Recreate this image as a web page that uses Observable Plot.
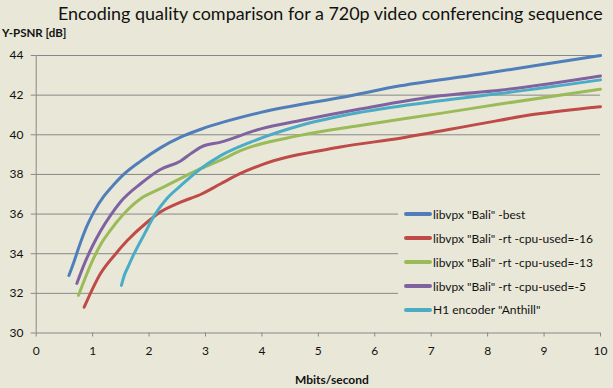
<!DOCTYPE html>
<html><head><meta charset="utf-8">
<script src="https://cdn.jsdelivr.net/npm/d3@7"></script>
<script src="https://cdn.jsdelivr.net/npm/@observablehq/plot@0.6"></script>
<style>
html,body{margin:0;padding:0;background:#E9E8D8;}
#wrap{position:relative;width:613px;height:388px;overflow:hidden;font-family:Lato,"Open Sans",sans-serif;background:#E9E8D8;}
#wrap svg{position:absolute;left:0;top:0;}
#title{position:absolute;left:58px;top:3px;font-size:18px;line-height:20px;white-space:nowrap;color:#111;}
#ylab{position:absolute;left:2px;top:26px;font-size:11.5px;font-weight:bold;color:#111;white-space:nowrap;}
#xlab{position:absolute;left:295px;top:372px;font-size:12px;font-weight:bold;color:#111;white-space:nowrap;}
#legend{position:absolute;left:398px;top:200px;width:215px;height:122px;background:#E9E8D8;}
.item{position:absolute;left:6px;height:20px;display:flex;align-items:center;font-size:12px;color:#111;white-space:nowrap;}
.sw{width:28px;height:4px;border-radius:2px;margin-right:1px;}
</style></head><body><div id="wrap">
<div id="title">Encoding quality comparison for a 720p video conferencing sequence</div>
<div id="ylab">Y-PSNR [dB]</div>
<div id="xlab">Mbits/second</div>
<div id="legend"></div>
</div>
<script>
const seriesNames = ['libvpx "Bali" -best','libvpx "Bali" -rt -cpu-used=-16','libvpx "Bali" -rt -cpu-used=-13','libvpx "Bali" -rt -cpu-used=-5','H1 encoder "Anthill"'];
const seriesColors = ["#4F7EBB","#BE4B48","#9BBB59","#7F63A1","#4BACC6"];

const bestX = [0.58,0.67,0.79,0.90,1.02,1.20,1.38,1.55,1.85,2.20,2.56,2.92,3.98,5.57,6.45,7.86,8.8,10];
const bestY = [32.9,33.6,34.6,35.4,36.1,36.9,37.5,38.0,38.67,39.34,39.88,40.28,41.13,41.97,42.47,43.05,43.47,44.0];

const rt16X = [0.85,1.14,1.41,1.61,1.97,2.20,2.56,2.92,3.27,3.62,3.98,5.39,6.45,7.86,8.8,10];
const rt16Y = [31.3,33.0,34.0,34.65,35.6,36.1,36.6,37.0,37.53,38.05,38.47,39.38,39.83,40.55,41.02,41.42];

const rt13X = [0.75,0.99,1.15,1.32,1.55,1.67,1.85,2.20,2.56,2.92,3.27,3.62,4.68,5.74,7.16,8.22,10];
const rt13Y = [31.9,33.6,34.5,35.2,36.0,36.35,36.77,37.28,37.8,38.3,38.72,39.2,39.97,40.47,41.08,41.55,42.3];

const rt5X = [0.72,0.87,1.00,1.14,1.32,1.49,1.85,2.20,2.56,2.74,2.92,3.27,3.98,4.68,5.74,7.16,8.22,10];
const rt5Y = [32.5,33.6,34.4,35.15,35.95,36.6,37.53,38.25,38.68,39.05,39.38,39.63,40.3,40.72,41.3,41.97,42.25,42.97];

const h1X = [1.51,1.56,1.63,1.71,1.91,2.11,2.32,2.56,2.92,3.27,3.80,4.68,5.74,7.16,8.22,10];
const h1Y = [32.4,32.9,33.35,33.85,34.95,36.0,36.8,37.43,38.3,38.95,39.63,40.47,41.13,41.72,42.08,42.77];

const xTicks = [0,1,2,3,4,5,6,7,8,9,10];
const yTicks = [30,32,34,36,38,40,42,44];

const allX = [bestX, rt16X, rt13X, rt5X, h1X];
const allY = [bestY, rt16Y, rt13Y, rt5Y, h1Y];
const data = [];
seriesNames.forEach((name, i) => {
  allX[i].forEach((x, j) => data.push({series: name, x, y: allY[i][j]}));
});

const chart = Plot.plot({
  width: 613,
  height: 388,
  marginLeft: 35.7,
  marginRight: 13,
  marginTop: 55,
  marginBottom: 55.5,
  style: {fontFamily: 'Lato, "Open Sans", sans-serif', fontSize: "12px", background: "transparent", color: "#111"},
  x: {domain: [0, 10]},
  y: {domain: [30, 44]},
  color: {domain: seriesNames, range: seriesColors},
  marks: [
    Plot.gridY(yTicks.filter(d => d > 30), {stroke: "#878787", strokeOpacity: 1, strokeWidth: 1}),
    Plot.ruleX([0], {stroke: "#878787", strokeWidth: 1}),
    Plot.ruleY([30], {stroke: "#878787", strokeWidth: 1}),
    Plot.axisY(yTicks, {tickSize: 5, tickPadding: 7.7, label: null, stroke: "#878787", fill: "#111"}),
    Plot.axisX(xTicks, {tickSize: 4, tickPadding: 9, label: null, stroke: "#878787", fill: "#111"}),
    Plot.line(data, {x: "x", y: "y", z: "series", stroke: "series", strokeWidth: 3, curve: "monotone-x", strokeLinecap: "round"})
  ]
});
const wrap = document.getElementById("wrap");
wrap.insertBefore(chart, wrap.firstChild);

const legend = document.getElementById("legend");
const centers = [214, 238, 262, 286, 309.5];
seriesNames.forEach((name, i) => {
  const it = document.createElement("div");
  it.className = "item";
  it.style.top = (centers[i] - 200 - 10) + "px";
  const sw = document.createElement("div");
  sw.className = "sw";
  sw.style.background = seriesColors[i];
  const t = document.createElement("span");
  t.textContent = name;
  it.appendChild(sw); it.appendChild(t);
  legend.appendChild(it);
});

// fit title to its reference width
const title = document.getElementById("title");
const w = title.getBoundingClientRect().width;
title.style.fontSize = (18 * 545 / w) + "px";
</script>
</body></html>
